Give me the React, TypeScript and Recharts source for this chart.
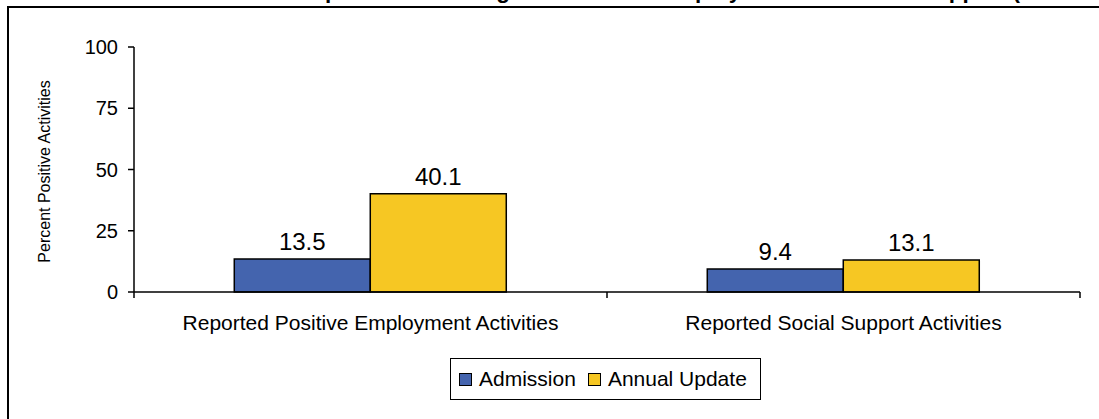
import React from "react";
import {
  BarChart,
  Bar,
  XAxis,
  YAxis,
  LabelList,
  Legend,
} from "recharts";

const categories = [
  "Reported Positive Employment Activities",
  "Reported Social Support Activities",
];
const admission = [13.5, 9.4];
const annualUpdate = [40.1, 13.1];
const yTicks = [0, 25, 50, 75, 100];
const seriesNames = ["Admission", "Annual Update"];
const seriesColors = ["#4464AE", "#F6C723"];
const yAxisTitle = "Percent Positive Activities";
const chartTitle =
  "Comparison of Changes in Positive Employment and Social Support (Percent)";

const data = categories.map((name, i) => ({
  name,
  admission: admission[i],
  annualUpdate: annualUpdate[i],
}));

const FONT = "'Liberation Sans', Arial, sans-serif";

const XTick = (props: any) => {
  const { x, y, payload, index, visibleTicksCount } = props;
  const half = payload && payload.offset ? payload.offset : 0;
  const last = index === visibleTicksCount - 1;
  return (
    <g>
      <line x1={x - half} x2={x - half} y1={y} y2={y + 6} stroke="#000" strokeWidth={1.5} />
      {last && (
        <line x1={x + half} x2={x + half} y1={y} y2={y + 6} stroke="#000" strokeWidth={1.5} />
      )}
      <text x={x} y={y + 38} textAnchor="middle" fontSize={21} fill="#000">
        {payload.value}
      </text>
    </g>
  );
};

const YLabel = (props: any) => {
  const vb = props.viewBox || { x: 0, y: 0, width: 0, height: 0 };
  const cx = vb.x + 44;
  const cy = vb.y + vb.height / 2 + 2;
  return (
    <text
      x={cx}
      y={cy}
      transform={`rotate(-90, ${cx}, ${cy})`}
      textAnchor="middle"
      dominantBaseline="central"
      fontSize={16}
      fill="#000"
    >
      {yAxisTitle}
    </text>
  );
};

const LegendContent = () => (
  <div
    style={{
      boxSizing: "border-box",
      border: "1.5px solid #000",
      background: "#fff",
      width: 311,
      height: 42,
      display: "flex",
      alignItems: "center",
      paddingLeft: 8,
      fontSize: 21,
      color: "#000",
      fontFamily: FONT,
    }}
  >
    {seriesNames.map((n, i) => (
      <span key={n} style={{ display: "flex", alignItems: "center", marginRight: 12 }}>
        <span
          style={{
            display: "inline-block",
            width: 11,
            height: 11,
            background: seriesColors[i],
            border: "1.5px solid #000",
            marginRight: 7,
          }}
        />
        <span>{n}</span>
      </span>
    ))}
  </div>
);

export default function App() {
  return (
    <div
      style={{
        position: "absolute",
        left: 0,
        top: 0,
        width: 1099,
        height: 419,
        overflow: "hidden",
        background: "#fff",
        fontFamily: FONT,
      }}
    >
      <div
        style={{
          position: "absolute",
          left: 7,
          top: 6,
          width: 1300,
          height: 700,
          border: "2px solid #000",
          boxSizing: "border-box",
        }}
      />
      <svg
        width={1099}
        height={20}
        style={{ position: "absolute", left: 0, top: 0 }}
      >
        <text x={275} y={-2} fontSize={22.5} fontWeight="bold" fill="#000">
          {chartTitle}
        </text>
      </svg>
      <div style={{ position: "absolute", left: 0, top: 0 }}>
        <BarChart
          width={1099}
          height={419}
          data={data}
          margin={{ top: 47, right: 19, bottom: 67, left: 0 }}
          barCategoryGap="21.2%"
          barGap={0}
        >
          <XAxis
            dataKey="name"
            interval={0}
            tickLine={false}
            tickSize={0}
            tickMargin={0}
            tick={<XTick />}
            axisLine={{ stroke: "#000", strokeWidth: 1.5 }}
            height={60}
          />
          <XAxis
            xAxisId="top"
            orientation="top"
            dataKey="name"
            height={0}
            tick={false}
            tickLine={false}
            axisLine={{ stroke: "#000", strokeWidth: 1 }}
          />
          <YAxis
            domain={[0, 100]}
            ticks={yTicks}
            interval={0}
            width={134}
            tickSize={6}
            tickMargin={10}
            tick={{ fontSize: 20, fill: "#000" }}
            tickLine={{ stroke: "#000", strokeWidth: 1.5 }}
            axisLine={{ stroke: "#000", strokeWidth: 1.5 }}
            label={<YLabel />}
          />
          <YAxis
            yAxisId="right"
            orientation="right"
            domain={[0, 100]}
            width={0}
            tick={false}
            tickLine={false}
            axisLine={{ stroke: "#000", strokeWidth: 1 }}
          />
          <Legend
            layout="horizontal"
            verticalAlign="middle"
            align="center"
            content={<LegendContent />}
            wrapperStyle={{ left: 450, top: 358, width: 311, height: 42 }}
          />
          <Bar
            dataKey="admission"
            name={seriesNames[0]}
            fill={seriesColors[0]}
            stroke="#000"
            strokeWidth={1.5}
            isAnimationActive={false}
          >
            <LabelList
              dataKey="admission"
              position="top"
              offset={9}
              fontSize={24}
              fill="#000"
              formatter={(v: any) => Number(v).toFixed(1)}
            />
          </Bar>
          <Bar
            dataKey="annualUpdate"
            name={seriesNames[1]}
            fill={seriesColors[1]}
            stroke="#000"
            strokeWidth={1.5}
            isAnimationActive={false}
          >
            <LabelList
              dataKey="annualUpdate"
              position="top"
              offset={9}
              fontSize={24}
              fill="#000"
              formatter={(v: any) => Number(v).toFixed(1)}
            />
          </Bar>
        </BarChart>
      </div>
    </div>
  );
}
